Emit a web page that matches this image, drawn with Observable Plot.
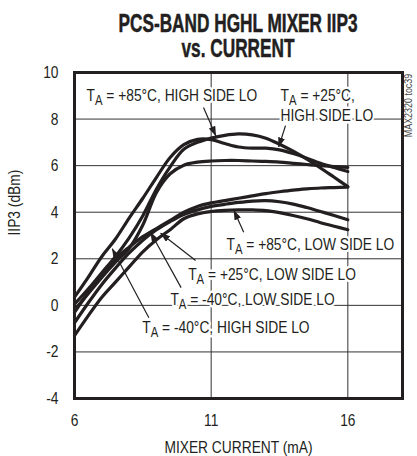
<!DOCTYPE html>
<html><head><meta charset="utf-8">
<script src="https://cdn.jsdelivr.net/npm/d3@7"></script>
<script src="https://cdn.jsdelivr.net/npm/@observablehq/plot@0.6"></script>
<style>
html,body{margin:0;padding:0;background:#fff;}
#wrap{width:417px;height:456px;position:relative;overflow:hidden;background:#fff;}
#title{height:62px;box-sizing:border-box;padding-top:11px;padding-left:59px;text-align:center;font-family:'Liberation Sans',Arial,sans-serif;font-weight:bold;font-size:25px;line-height:25px;color:#231f20;-webkit-text-stroke:0.5px #231f20;}
#title div{transform-origin:center;white-space:nowrap;}
#title span{display:inline-block;}
</style></head>
<body><div id="wrap"><div id="title"><div><span>PCS-BAND HGHL MIXER IIP3</span></div><div><span>vs. CURRENT</span></div></div><div id="chart"></div></div>
<script>
// ---- data ----
const currents = [6, 6.5, 7, 7.5, 8, 8.5, 9, 9.5, 10, 10.5, 11, 11.5, 12, 12.5, 13, 13.5, 14, 14.5, 15, 15.5, 16];
const iip3_p85_high = [0.35, 1.2, 2.1, 2.85, 3.75, 4.6, 5.5, 6.35, 6.9, 7.13, 7.12, 6.95, 6.8, 6.75, 6.75, 6.68, 6.52, 6.32, 6.1, 5.92, 5.75];
const iip3_p25_high = [0.05, 0.7, 1.4, 2.1, 2.9, 3.85, 5.0, 5.95, 6.7, 7.0, 7.18, 7.3, 7.36, 7.32, 7.18, 6.92, 6.62, 6.28, 5.9, 5.5, 5.1];
const iip3_m40_high = [-0.2, 0.5, 1.2, 1.85, 2.45, 3.45, 4.85, 5.65, 6.02, 6.15, 6.2, 6.22, 6.22, 6.2, 6.18, 6.15, 6.1, 6.05, 6.0, 5.96, 5.92];
const iip3_m40_low = [-0.3, 0.55, 1.35, 2.0, 2.5, 2.95, 3.3, 3.65, 4.0, 4.25, 4.4, 4.5, 4.6, 4.7, 4.8, 4.88, 4.95, 5.0, 5.04, 5.06, 5.08];
const iip3_p25_low = [-0.75, 0.1, 0.9, 1.6, 2.25, 2.8, 3.25, 3.6, 3.9, 4.1, 4.25, 4.34, 4.42, 4.48, 4.5, 4.45, 4.35, 4.2, 4.03, 3.86, 3.68];
const iip3_p85_low = [-1.3, -0.45, 0.35, 1.0, 1.65, 2.3, 2.82, 3.25, 3.72, 3.93, 4.03, 4.08, 4.1, 4.1, 4.07, 3.98, 3.86, 3.72, 3.55, 3.4, 3.25];
const seriesNames = ["+85 HIGH", "+25 HIGH", "-40 HIGH", "-40 LOW", "+25 LOW", "+85 LOW"];
const seriesValues = [iip3_p85_high, iip3_p25_high, iip3_m40_high, iip3_m40_low, iip3_p25_low, iip3_p85_low];

const labelTexts = ["TA = +85°C, HIGH SIDE LO", "TA = +25°C,", "HIGH SIDE LO", "TA = +85°C, LOW SIDE LO", "TA = +25°C, LOW SIDE LO", "TA = -40°C, LOW SIDE LO", "TA = -40°C, HIGH SIDE LO"];
const labelX = [6.44, 13.54, 13.54, 11.56, 10.16, 9.51, 8.48];
const labelY = [9.03, 9.03, 8.17, 2.63, 1.34, 0.23, -0.97];

const arrowFromX = [10.72, 13.72, 12.19, 10.43, 9.90, 8.72];
const arrowFromY = [8.50, 7.72, 3.14, 1.93, 0.76, -0.53];
const arrowToX = [11.17, 13.47, 11.83, 9.15, 8.78, 7.38];
const arrowToY = [7.28, 6.80, 4.08, 3.10, 3.14, 2.43];

const xTicks = [6, 11, 16];
const yTicks = [-4, -2, 0, 2, 4, 6, 8, 10];
const xGrid = [11, 16];
const yGrid = [-2, 0, 2, 4, 6, 8];
const xTitle = "MIXER CURRENT (mA)";
const yTitle = "IIP3 (dBm)";
const figId = "MAX2320 toc39";

// ---- build tables ----
const rows = seriesNames.flatMap((s, j) => currents.map((x, i) => ({s, x, y: seriesValues[j][i]})));
const labels = labelTexts.map((t, i) => ({t, x: labelX[i], y: labelY[i]}));
const arrows = arrowFromX.map((_, i) => ({x1: arrowFromX[i], y1: arrowFromY[i], x2: arrowToX[i], y2: arrowToY[i]}));
const ink = "#231f20";

const chart = Plot.plot({
  width: 417, height: 394,
  marginLeft: 74, marginRight: 15, marginTop: 10, marginBottom: 58,
  style: {fontFamily: "'Liberation Sans',Arial,sans-serif", fontSize: "17px", color: ink, background: "#fff"},
  x: {domain: [6, 18]},
  y: {domain: [-4, 10]},
  marks: [
    Plot.gridX(xGrid, {stroke: "#333", strokeOpacity: 1, strokeWidth: 1}),
    Plot.gridY(yGrid, {stroke: "#333", strokeOpacity: 1, strokeWidth: 1}),
    Plot.axisX(xTicks, {tickSize: 0, tickPadding: 15, label: null, tickFormat: d => String(d), fill: ink}),
    Plot.axisY(yTicks, {tickSize: 0, tickPadding: 16, label: null, tickFormat: d => String(d), fill: ink}),
    Plot.text(labels, {x: "x", y: "y", text: "t", textAnchor: "start", lineAnchor: "middle", fill: ink, stroke: "white", strokeWidth: 5}),
    Plot.line(rows, {x: "x", y: "y", z: "s", stroke: ink, strokeWidth: 3.2, curve: "catmull-rom"}),
    Plot.link(arrows, {x1: "x1", y1: "y1", x2: "x2", y2: "y2", stroke: ink, strokeWidth: 1.2}),
    Plot.text([xTitle], {text: d => d, frameAnchor: "bottom", lineAnchor: "middle", dy: 49, fill: ink}),
    Plot.text([yTitle], {text: d => d, frameAnchor: "left", lineAnchor: "middle", rotate: -90, dx: -60, fill: ink}),
    Plot.text([figId], {text: d => d, frameAnchor: "top-right", lineAnchor: "middle", textAnchor: "middle", rotate: -90, dx: 6, dy: 33, fontSize: 11, fill: "#444"}),
    Plot.frame({stroke: ink, strokeWidth: 3})
  ]
});

const ns = "http://www.w3.org/2000/svg";
// filled arrowheads
const defs = document.createElementNS(ns, "defs");
defs.innerHTML = '<marker id="ah" viewBox="0 0 10 7" refX="9.5" refY="3.5" markerWidth="10" markerHeight="7" markerUnits="userSpaceOnUse" orient="auto"><path d="M0,0L10,3.5L0,7Z" fill="' + ink + '"/></marker>';
chart.prepend(defs);
chart.querySelectorAll('g[aria-label="link"] path').forEach(p => p.setAttribute("marker-end", "url(#ah)"));
// subscript A in T_A
chart.querySelectorAll('text').forEach(t => {
  const s = t.textContent;
  if (s.startsWith("TA ")) {
    t.textContent = "";
    const a = document.createElementNS(ns, "tspan"); a.textContent = "T";
    const b = document.createElementNS(ns, "tspan"); b.textContent = "A"; b.setAttribute("dy", "4"); b.setAttribute("font-size", "14");
    const c = document.createElementNS(ns, "tspan"); c.textContent = s.slice(2); c.setAttribute("dy", "-4");
    t.append(a, b, c);
  }
});
document.getElementById("chart").append(chart);
// condensed lettering (narrow face look)
chart.querySelectorAll('text').forEach(t => {
  const L = t.getComputedTextLength();
  if (L > 0) { t.setAttribute("textLength", (L * 0.81).toFixed(1)); t.setAttribute("lengthAdjust", "spacingAndGlyphs"); }
});
// title condensed to reference width
const spans = document.querySelectorAll('#title span');
const w1 = spans[0].getBoundingClientRect().width;
const f = 239 / w1;
document.querySelectorAll('#title div').forEach(d => d.style.transform = "scaleX(" + f.toFixed(3) + ")");
</script>
</body></html>
